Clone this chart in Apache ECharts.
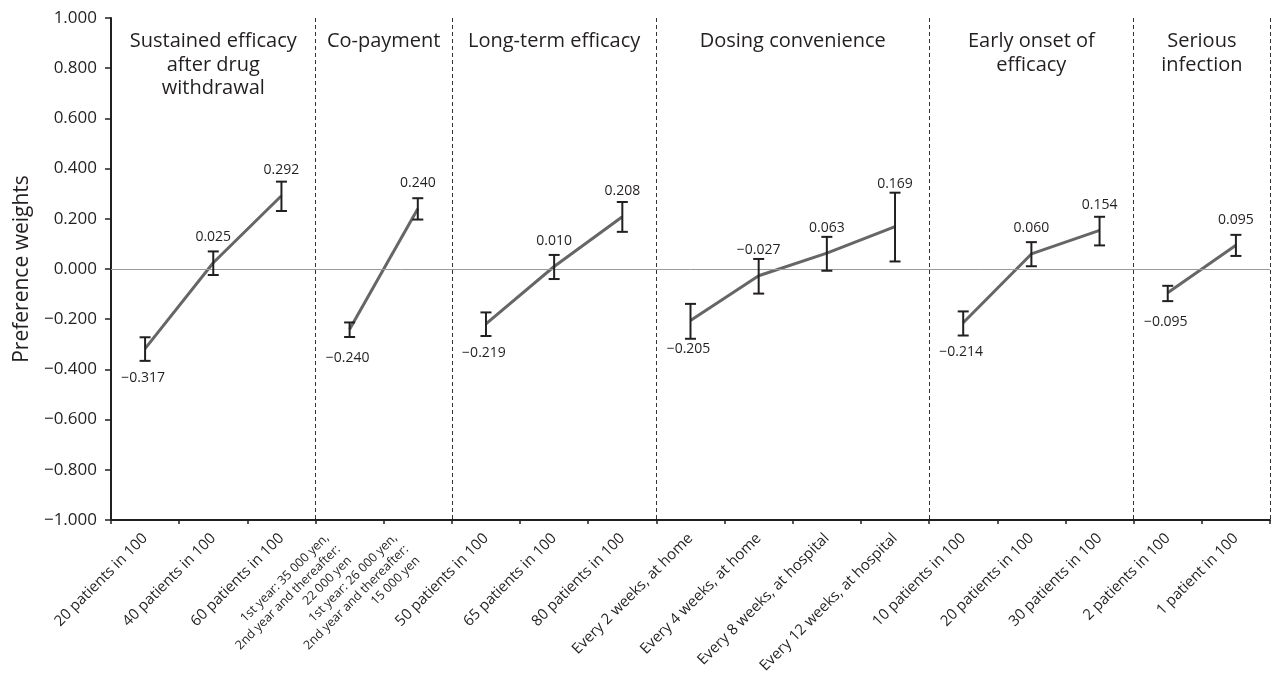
<!DOCTYPE html>
<html>
<head>
<meta charset="utf-8">
<script src="https://cdn.jsdelivr.net/npm/echarts@6/dist/echarts.min.js"></script>
<style>
html,body{margin:0;padding:0;background:#fff;}
#chart{width:1271px;height:676px;}
</style>
</head>
<body>
<div id="chart"></div>
<script>
const categories = [
  '20 patients in 100', '40 patients in 100', '60 patients in 100',
  '1st year: 35 000 yen,\n2nd year and thereafter:\n22 000 yen',
  '1st year: 26 000 yen,\n2nd year and thereafter:\n15 000 yen',
  '50 patients in 100', '65 patients in 100', '80 patients in 100',
  'Every 2 weeks, at home', 'Every 4 weeks, at home', 'Every 8 weeks, at hospital', 'Every 12 weeks, at hospital',
  '10 patients in 100', '20 patients in 100', '30 patients in 100',
  '2 patients in 100', '1 patient in 100'
];
const groupNames = [
  'Sustained efficacy\nafter drug\nwithdrawal',
  'Co-payment',
  'Long-term efficacy',
  'Dosing convenience',
  'Early onset of\nefficacy',
  'Serious\ninfection'
];
const groupSizes = [3, 2, 3, 4, 3, 2];
const values = [-0.317, 0.025, 0.292, -0.240, 0.240, -0.219, 0.010, 0.208, -0.205, -0.027, 0.063, 0.169, -0.214, 0.060, 0.154, -0.095, 0.095];
const lower  = [-0.366, -0.024, 0.231, -0.271, 0.197, -0.267, -0.040, 0.148, -0.278, -0.098, -0.007, 0.030, -0.265, 0.011, 0.094, -0.128, 0.052];
const upper  = [-0.272, 0.070, 0.348, -0.213, 0.282, -0.173, 0.056, 0.267, -0.139, 0.040, 0.128, 0.304, -0.169, 0.107, 0.208, -0.067, 0.136];
const yTicks = { min: -1, max: 1, interval: 0.2 };

const FONT = '"Open Sans", "Noto Sans", sans-serif';
const TXT = '#231f20';
const fmt = v => (v < 0 ? '\u2212' : '') + Math.abs(v).toFixed(3);

const groupStarts = [];
let acc = 0;
groupSizes.forEach(s => { groupStarts.push(acc); acc += s; });
const boundarySet = new Set(groupStarts.slice(1));

const lineSeries = groupStarts.map((start, g) => {
  const data = [];
  for (let i = start; i < start + groupSizes[g]; i++) data.push([i, values[i]]);
  const s = {
    type: 'line', data: data, symbol: 'none', silent: true, z: 3,
    lineStyle: { color: '#666666', width: 3 }
  };
  if (g === 0) {
    s.markLine = {
      silent: true, symbol: 'none', label: { show: false },
      lineStyle: { color: '#9a9a9a', width: 1, type: 'solid' },
      data: [{ yAxis: 0 }]
    };
  }
  return s;
});

const errData = values.map((v, i) => [i, lower[i], upper[i], v, groupStarts.includes(i) ? 1 : 0]);

const errSeries = {
  type: 'custom', z: 5, silent: true,
  data: errData,
  encode: { x: 0, y: [1, 2, 3] },
  renderItem: function (params, api) {
    const i = api.value(0);
    const lo = api.coord([i, api.value(1)]);
    const hi = api.coord([i, api.value(2)]);
    const pt = api.coord([i, api.value(3)]);
    const below = api.value(4) === 1;
    const cap = 5.5;
    const ls = { stroke: TXT, lineWidth: 2 };
    const ty = below ? pt[1] + 29 : Math.min(pt[1] - 25.5, hi[1] - 9);
    return {
      type: 'group',
      children: [
        { type: 'line', shape: { x1: pt[0], y1: lo[1], x2: pt[0], y2: hi[1] }, style: ls },
        { type: 'line', shape: { x1: pt[0] - cap, y1: lo[1], x2: pt[0] + cap, y2: lo[1] }, style: ls },
        { type: 'line', shape: { x1: pt[0] - cap, y1: hi[1], x2: pt[0] + cap, y2: hi[1] }, style: ls },
        {
          type: 'text', x: pt[0] + (below ? -2 : 0), y: ty,
          style: {
            text: fmt(api.value(3)), fill: TXT, fontSize: 14, fontFamily: FONT,
            align: 'center', verticalAlign: 'middle'
          }
        }
      ]
    };
  }
};

const chart = echarts.init(document.getElementById('chart'), null, { renderer: 'canvas' });
chart.setOption({
  animation: false,
  backgroundColor: '#ffffff',
  grid: { left: 111, right: 1, top: 18, bottom: 154 },
  xAxis: {
    type: 'category',
    data: categories,
    boundaryGap: true,
    axisLine: { onZero: false, lineStyle: { color: TXT, width: 2 } },
    axisTick: { show: true, interval: 0, length: 4, lineStyle: { color: TXT, width: 1.5 } },
    axisLabel: {
      interval: 0, rotate: 45, margin: 16, color: TXT, fontSize: 15, fontFamily: FONT,
      formatter: function (v) {
        if (v.indexOf('\n') >= 0) return v.split('\n').map(l => '{s|' + l + '}').join('\n');
        return v;
      },
      rich: { s: { fontSize: 12.5, lineHeight: 16, fontFamily: FONT, color: TXT, padding: [0, 16, 0, 0] } }
    },
    splitLine: {
      show: true,
      interval: function (idx) { return boundarySet.has(idx); },
      lineStyle: { color: '#333333', width: 1, type: [4, 3] }
    }
  },
  yAxis: {
    type: 'value',
    min: yTicks.min, max: yTicks.max, interval: yTicks.interval,
    name: 'Preference weights',
    nameLocation: 'middle',
    nameGap: 78,
    nameTextStyle: { color: TXT, fontSize: 21, fontFamily: FONT },
    axisLine: { show: true, lineStyle: { color: TXT, width: 2 } },
    axisTick: { show: true, length: 6, lineStyle: { color: TXT, width: 1.5 } },
    axisLabel: { margin: 14, color: TXT, fontSize: 17, fontFamily: FONT, formatter: fmt },
    splitLine: { show: false }
  },
  series: lineSeries.concat([errSeries])
});

const graphics = groupStarts.map((start, g) => {
  const x0 = chart.convertToPixel({ xAxisIndex: 0 }, start);
  const x1 = chart.convertToPixel({ xAxisIndex: 0 }, start + groupSizes[g] - 1);
  return {
    type: 'text', x: (x0 + x1) / 2, y: 30, silent: true,
    style: {
      text: groupNames[g], fill: TXT, fontSize: 20, fontFamily: FONT,
      lineHeight: 23.5, align: 'center', verticalAlign: 'top'
    }
  };
});
chart.setOption({ graphic: graphics });
</script>
</body>
</html>
